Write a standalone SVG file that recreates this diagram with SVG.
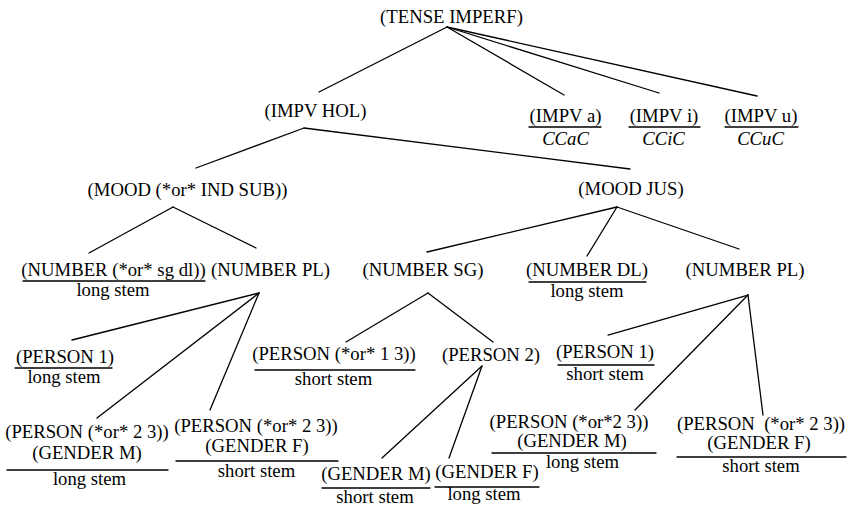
<svg xmlns="http://www.w3.org/2000/svg" width="847" height="508" viewBox="0 0 847 508">
  <style>
    text { font-family: "Liberation Serif", "Times New Roman", serif; font-size: 18.7px; fill: #000; text-anchor: middle; }
    .it { font-style: italic; }
    .pre { white-space: pre; }
    line { stroke: #000; stroke-width: 1.3; stroke-linecap: round; }
  </style>
  <rect width="847" height="508" fill="#fff"/>

  <g id="connectors">
    <line x1="447" y1="27" x2="319" y2="92"/>
    <line x1="447" y1="27" x2="564" y2="95"/>
    <line x1="447" y1="27" x2="659" y2="93"/>
    <line x1="447" y1="27" x2="757" y2="96"/>
    <line x1="304" y1="128" x2="196" y2="168"/>
    <line x1="304" y1="128" x2="630" y2="169"/>
    <line x1="173" y1="207" x2="89" y2="253"/>
    <line x1="173" y1="207" x2="256" y2="248"/>
    <line x1="617" y1="207" x2="427" y2="252"/>
    <line x1="617" y1="207" x2="587" y2="256"/>
    <line x1="617" y1="207" x2="739" y2="249"/>
    <line x1="259" y1="293" x2="72" y2="340"/>
    <line x1="259" y1="293" x2="97" y2="418"/>
    <line x1="259" y1="293" x2="210" y2="410"/>
    <line x1="428" y1="293" x2="346" y2="342"/>
    <line x1="428" y1="293" x2="493" y2="342"/>
    <line x1="482" y1="366" x2="382" y2="458"/>
    <line x1="482" y1="366" x2="449" y2="458"/>
    <line x1="748" y1="295" x2="608" y2="335"/>
    <line x1="748" y1="295" x2="635" y2="410"/>
    <line x1="748" y1="295" x2="763" y2="415"/>
  </g>

  <g id="tense-imperf"><text x="451.5" y="23">(TENSE IMPERF)</text></g>
  <g id="impv-hol"><text x="315.5" y="117">(IMPV HOL)</text></g>
  <g id="impv-a">
    <text x="565.5" y="122">(IMPV a)</text>
    <line x1="529" y1="127" x2="601" y2="127"/>
    <text class="it" x="565.5" y="145">CCaC</text>
  </g>
  <g id="impv-i">
    <text x="664" y="122">(IMPV i)</text>
    <line x1="629" y1="127" x2="700" y2="127"/>
    <text class="it" x="663.5" y="145">CCiC</text>
  </g>
  <g id="impv-u">
    <text x="761" y="122">(IMPV u)</text>
    <line x1="725" y1="127" x2="798" y2="127"/>
    <text class="it" x="760.5" y="145">CCuC</text>
  </g>

  <g id="mood-ind-sub"><text x="187.5" y="196">(MOOD (*or* IND SUB))</text></g>
  <g id="mood-jus"><text x="631" y="195">(MOOD JUS)</text></g>

  <g id="number-sg-dl">
    <text x="113.5" y="276">(NUMBER (*or* sg dl))</text>
    <line x1="23" y1="281" x2="205" y2="281"/>
    <text x="113" y="296">long stem</text>
  </g>
  <g id="number-pl-ind"><text x="270.5" y="276">(NUMBER PL)</text></g>
  <g id="number-sg"><text x="423" y="276">(NUMBER SG)</text></g>
  <g id="number-dl">
    <text x="587" y="276">(NUMBER DL)</text>
    <line x1="529" y1="282" x2="646" y2="282"/>
    <text x="587" y="297">long stem</text>
  </g>
  <g id="number-pl-jus"><text x="745" y="276">(NUMBER PL)</text></g>

  <g id="person-1-ind">
    <text x="65" y="363">(PERSON 1)</text>
    <line x1="15" y1="368" x2="112" y2="368"/>
    <text x="64" y="383">long stem</text>
  </g>
  <g id="person-23-m-ind">
    <text x="87" y="438">(PERSON (*or* 2 3))</text>
    <text x="87" y="459">(GENDER M)</text>
    <line x1="7" y1="470" x2="168" y2="470"/>
    <text x="89.5" y="485">long stem</text>
  </g>
  <g id="person-23-f-ind">
    <text x="256" y="432">(PERSON (*or* 2 3))</text>
    <text x="257" y="452">(GENDER F)</text>
    <line x1="176" y1="461" x2="338" y2="461"/>
    <text x="256.5" y="477">short stem</text>
  </g>

  <g id="person-13-sg">
    <text x="334" y="360">(PERSON (*or* 1 3))</text>
    <line x1="255" y1="370" x2="415" y2="370"/>
    <text x="333.5" y="385">short stem</text>
  </g>
  <g id="person-2-sg"><text x="491" y="361">(PERSON 2)</text></g>
  <g id="gender-m-sg">
    <text x="376" y="480">(GENDER M)</text>
    <line x1="322" y1="488" x2="430" y2="488"/>
    <text x="375" y="503">short stem</text>
  </g>
  <g id="gender-f-sg">
    <text x="487" y="478">(GENDER F)</text>
    <line x1="435" y1="487" x2="539" y2="487"/>
    <text x="484" y="500">long stem</text>
  </g>

  <g id="person-1-jus">
    <text x="605" y="358">(PERSON 1)</text>
    <line x1="558" y1="365" x2="654" y2="365"/>
    <text x="605" y="380">short stem</text>
  </g>
  <g id="person-23-m-jus">
    <text x="569" y="428">(PERSON (*or*2 3))</text>
    <text x="572" y="447">(GENDER M)</text>
    <line x1="492" y1="453" x2="656" y2="453"/>
    <text x="582.5" y="468">long stem</text>
  </g>
  <g id="person-23-f-jus">
    <text class="pre" x="761" y="430">(PERSON  (*or* 2 3))</text>
    <text x="759" y="449">(GENDER F)</text>
    <line x1="677" y1="457" x2="846" y2="457"/>
    <text x="761" y="472">short stem</text>
  </g>
</svg>
